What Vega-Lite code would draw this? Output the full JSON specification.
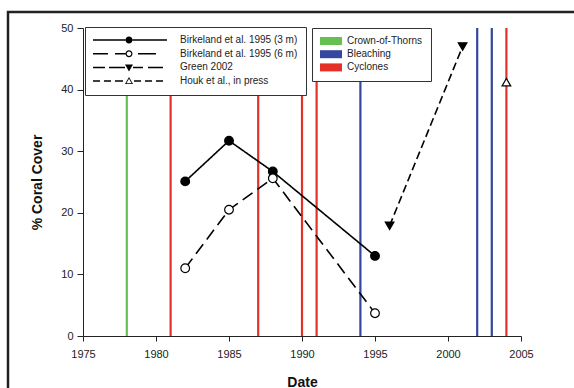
{
  "$schema": "https://vega.github.io/schema/vega-lite/v6.json",
  "width": 566,
  "height": 376,
  "autosize": {"type": "none"},
  "padding": {"left": 8, "top": 12, "right": 0, "bottom": 0},
  "background": "white",
  "config": {
    "font": "Liberation Sans",
    "view": {"stroke": "#222", "strokeWidth": 2.5, "strokeDash": [566, 942, 376], "strokeCap": "square"},
    "axis": {"grid": false, "labelFlush": false, "labelOverlap": false, "domainColor": "#222", "tickColor": "#222", "labelColor": "#222", "titleColor": "#111", "labelFont": "Liberation Sans", "titleFont": "Liberation Sans", "labelFontSize": 11, "titleFontSize": 14, "titleFontWeight": "bold"}
  },
  "datasets": {
    "events": [
      {"year": 1978, "type": "Crown-of-Thorns"},
      {"year": 1981, "type": "Cyclones"},
      {"year": 1987, "type": "Cyclones"},
      {"year": 1990, "type": "Cyclones"},
      {"year": 1991, "type": "Cyclones"},
      {"year": 1994, "type": "Bleaching"},
      {"year": 2002, "type": "Bleaching"},
      {"year": 2003, "type": "Bleaching"},
      {"year": 2004, "type": "Cyclones"}
    ],
    "cover": [
      {"year": 1982, "cover": 25.1, "series": "Birkeland et al. 1995 (3 m)"},
      {"year": 1985, "cover": 31.7, "series": "Birkeland et al. 1995 (3 m)"},
      {"year": 1988, "cover": 26.7, "series": "Birkeland et al. 1995 (3 m)"},
      {"year": 1995, "cover": 13.0, "series": "Birkeland et al. 1995 (3 m)"},
      {"year": 1982, "cover": 11.0, "series": "Birkeland et al. 1995 (6 m)"},
      {"year": 1985, "cover": 20.5, "series": "Birkeland et al. 1995 (6 m)"},
      {"year": 1988, "cover": 25.6, "series": "Birkeland et al. 1995 (6 m)"},
      {"year": 1995, "cover": 3.7, "series": "Birkeland et al. 1995 (6 m)"},
      {"year": 1996, "cover": 17.9, "series": "Green 2002"},
      {"year": 2001, "cover": 47.0, "series": "Green 2002"},
      {"year": 2004, "cover": 41.2, "series": "Houk et al., in press"}
    ]
  },
  "resolve": {"scale": {"shape": "independent"}},
  "layer": [
    {
      "data": {"name": "events"},
      "mark": {"type": "rule", "strokeWidth": 2.2},
      "encoding": {
        "x": {"field": "year", "type": "quantitative", "title": "Date",
              "scale": {"domain": [1975, 2005], "range": [75, 513], "nice": false, "zero": false},
              "axis": {"values": [1975, 1980, 1985, 1990, 1995, 2000, 2005], "format": "d", "offset": -52, "tickSize": 5, "labelPadding": 7, "titlePadding": 16}},
        "y": {"datum": 0, "type": "quantitative", "title": "% Coral Cover",
              "scale": {"domain": [0, 50], "range": [324, 16], "nice": false, "zero": false},
              "axis": {"values": [0, 10, 20, 30, 40, 50], "offset": -75, "tickSize": 6, "labelPadding": 4, "titlePadding": 16}},
        "y2": {"datum": 50},
        "stroke": {"field": "type", "type": "nominal",
                   "scale": {"domain": ["Bleaching", "Crown-of-Thorns", "Cyclones"], "range": ["#3446a0", "#66c04f", "#e53027"]},
                   "legend": null}
      }
    },
    {
      "data": {"name": "events"},
      "mark": {"type": "point", "filled": true, "opacity": 0, "size": 100, "shape": "M-1,-0.8H3.4V0.8H-1Z"},
      "encoding": {
        "x": {"field": "year", "type": "quantitative", "title": "Date"},
        "y": {"datum": 25, "type": "quantitative", "title": "% Coral Cover"},
        "color": {"field": "type", "type": "nominal",
                  "scale": {"domain": ["Crown-of-Thorns", "Bleaching", "Cyclones"], "range": ["#66c04f", "#3446a0", "#e53027"]},
                  "legend": {"orient": "none", "legendX": 304, "legendY": 16, "title": null, "padding": 8,
                             "fillColor": "white", "strokeColor": "#333",
                             "symbolType": "M-1,-0.8H3.4V0.8H-1Z", "symbolSize": 100, "symbolStrokeWidth": 0,
                             "symbolOffset": 0, "labelOffset": 17, "labelFontSize": 10, "labelFont": "Liberation Sans",
                             "labelColor": "#222", "rowPadding": 3.2, "labelLimit": 300}}
      }
    },
    {
      "data": {"name": "cover"},
      "mark": {"type": "line", "color": "black", "strokeWidth": 1.6},
      "encoding": {
        "x": {"field": "year", "type": "quantitative", "title": "Date"},
        "y": {"field": "cover", "type": "quantitative", "title": "% Coral Cover"},
        "strokeDash": {"field": "series", "type": "nominal",
                       "scale": {"domain": ["Birkeland et al. 1995 (3 m)", "Birkeland et al. 1995 (6 m)", "Green 2002", "Houk et al., in press"],
                                 "range": [[1, 0], [12, 6], [8, 4], [5, 3]]},
                       "legend": null}
      }
    },
    {
      "data": {"name": "cover"},
      "mark": {"type": "point", "stroke": "black", "strokeWidth": 1.2, "size": 75, "opacity": 1},
      "encoding": {
        "x": {"field": "year", "type": "quantitative", "title": "Date"},
        "y": {"field": "cover", "type": "quantitative", "title": "% Coral Cover"},
        "shape": {"field": "series", "type": "nominal",
                  "scale": {"domain": ["Birkeland et al. 1995 (3 m)", "Birkeland et al. 1995 (6 m)", "Green 2002", "Houk et al., in press"],
                            "range": ["circle", "circle", "triangle-down", "triangle-up"]},
                  "legend": null},
        "fill": {"field": "series", "type": "nominal",
                 "scale": {"domain": ["Birkeland et al. 1995 (3 m)", "Birkeland et al. 1995 (6 m)", "Green 2002", "Houk et al., in press"],
                           "range": ["black", "white", "black", "white"]},
                 "legend": null}
      }
    },
    {
      "data": {"name": "cover"},
      "mark": {"type": "point", "filled": true, "color": "black", "opacity": 0, "size": 100},
      "encoding": {
        "x": {"field": "year", "type": "quantitative", "title": "Date"},
        "y": {"field": "cover", "type": "quantitative", "title": "% Coral Cover"},
        "shape": {"field": "series", "type": "nominal",
                  "scale": {"domain": ["Birkeland et al. 1995 (3 m)", "Birkeland et al. 1995 (6 m)", "Green 2002", "Houk et al., in press"],
                            "range": [
                              "M-1,-0.15H5.5V0.15H-1Z M6.9,-0.15H13.8V0.15H6.9Z M5.5,0A0.7,0.7 0 1,1 6.9,0A0.7,0.7 0 1,1 5.5,0Z",
                              "M-1,-0.15H2V0.15H-1Z M3.4,-0.15H5.5V0.15H3.4Z M5.5,0A0.7,0.7 0 1,1 6.9,0A0.7,0.7 0 1,1 5.5,0Z M5.75,0A0.45,0.45 0 1,0 6.65,0A0.45,0.45 0 1,0 5.75,0Z M8,-0.15H11.6V0.15H8Z",
                              "M-1,-0.15H1.4V0.15H-1Z M2.2,-0.15H5.4V0.15H2.2Z M5.4,-0.6L7,-0.6L6.2,0.8Z M7,-0.15H9V0.15H7Z M10,-0.15H13V0.15H10Z",
                              "M-1,-0.15H0.4V0.15H-1Z M1.2,-0.15H2.6V0.15H1.2Z M3.4,-0.15H5V0.15H3.4Z M5.4,0.6L6.2,-0.8L7,0.6Z M5.68,0.44L6.72,0.44L6.2,-0.47Z M7.2,-0.15H8.6V0.15H7.2Z M9.4,-0.15H10.8V0.15H9.4Z M11.6,-0.15H13V0.15H11.6Z"
                            ]},
                  "legend": {"orient": "none", "legendX": 77, "legendY": 15, "title": null, "padding": 8,
                             "fillColor": "white", "strokeColor": "#333",
                             "symbolSize": 100, "symbolStrokeWidth": 0, "symbolFillColor": "black",
                             "symbolOffset": 0, "labelOffset": 77, "labelFontSize": 10, "labelFont": "Liberation Sans",
                             "labelColor": "#222", "rowPadding": 3.7, "labelLimit": 300}}
      }
    }
  ]
}
